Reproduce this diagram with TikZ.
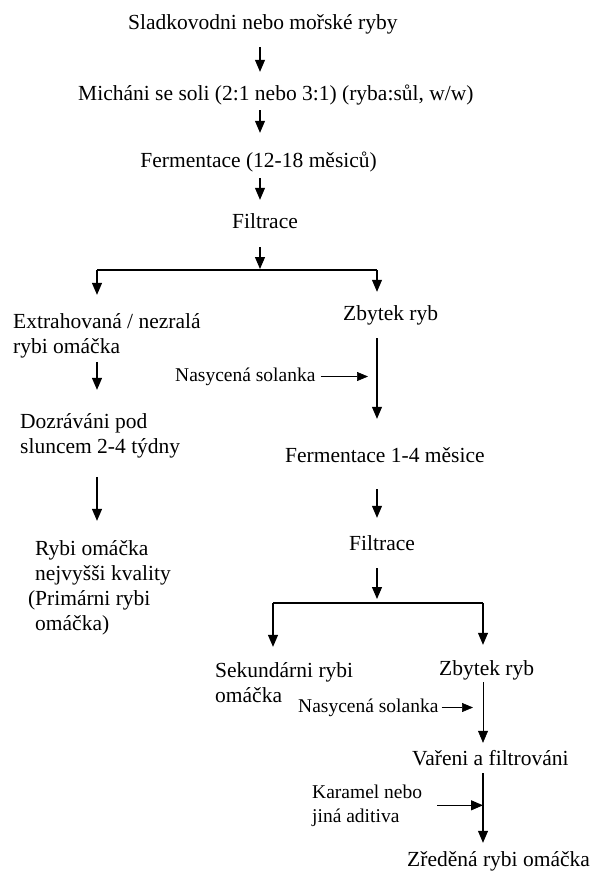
\documentclass[tikz,border=0pt]{standalone}
\usepackage{fontspec}
\setmainfont{Liberation Serif}
\usetikzlibrary{arrows.meta}

\begin{document}
\begin{tikzpicture}[
		x=1pt, y=-1pt,
		% Define styles for nodes
		every node/.style={inner sep=0pt, anchor=base west},
		txt/.style={font=\fontsize{21.5}{25}\selectfont, text height=15pt, text depth=5pt},
		blk/.style={font=\fontsize{21.5}{25}\selectfont, align=left},
		small/.style={font=\fontsize{19.5}{24}\selectfont, text height=13.5pt, text depth=4.5pt},
		smallblk/.style={font=\fontsize{19.5}{24}\selectfont, align=left},
		% Define styles for connectors
		arr/.style={draw, line width=1.1pt, -{Triangle[width=10pt, length=12pt]}},
		feed/.style={draw, line width=0.6pt, -{Triangle[width=9pt, length=11pt]}}
	]
	\useasboundingbox (0,0) rectangle (595,872);

	% Columns and split points
	\coordinate (colM) at (260,0);
	\coordinate (colL) at (97,0);
	\coordinate (colR) at (377,0);
	\coordinate (colRR) at (483,0);
	\coordinate (split) at (260,270);
	\coordinate (splitL) at (97,270);
	\coordinate (splitR) at (377,270);
	\coordinate (splitB) at (377,603);
	\coordinate (splitBL) at (273,603);
	\coordinate (splitBR) at (483,603);

	% Main line
	\node[txt] (fish) at (128,30) {Sladkovodni nebo mořské ryby};
	\node[txt] (mix) at (78,101) {Micháni se soli (2:1 nebo 3:1) (ryba:sůl, w/w)};
	\node[txt, anchor=base east] (ferm) at (377,167) {Fermentace (12-18 měsiců)};
	\node[txt] (filt) at (232,228) {Filtrace};

	% Left branch (blocks sit on the baseline of their last line)
	\node[blk] (extr) at (13,353) {Extrahovaná / nezralá\\rybi omáčka};
	\node[blk] (ripe) at (20,453) {Dozráváni pod\\sluncem 2-4 týdny};
	\node[blk] (prim) at (35,630) {Rybi omáčka\\nejvyšši kvality\\\llap{(}Primárni rybi\\omáčka)};

	% Right branch
	\node[txt] (rest) at (343,320) {Zbytek ryb};
	\node[small] (brine) at (175,381) {Nasycená solanka};
	\node[txt] (fermB) at (285,462) {Fermentace 1-4 měsice};
	\node[txt] (filtB) at (349,550) {Filtrace};
	\node[blk] (sec) at (215,702) {Sekundárni rybi\\omáčka};
	\node[txt] (restB) at (439,675) {Zbytek ryb};
	\node[small] (brineB) at (298,712) {Nasycená solanka};
	\node[txt] (cook) at (412,765) {Vařeni a filtrováni};
	\node[smallblk] (caramel) at (312,822) {Karamel nebo\\jiná aditiva};
	\node[txt] (dil) at (407,866) {Zředěná rybi omáčka};

	% Arrows, main line
	\draw[arr, shorten <=12pt, shorten >=14pt] (fish.south -| colM) -- (mix.north -| colM);
	\draw[arr, shorten <=4pt, shorten >=19pt] (mix.south -| colM) -- (ferm.north -| colM);
	\draw[arr, shorten <=6pt, shorten >=13pt] (ferm.south -| colM) -- (filt.north -| colM);
	\draw[arr, shorten <=14pt, shorten >=1pt] (filt.south -| colM) -- (split);
	\draw[line width=1.1pt] (splitL) -- (splitR);
	\draw[arr, shorten >=18pt] (splitL) -- (splitL |- extr.north);
	\draw[arr, shorten >=13pt] (splitR) -- (splitR |- rest.north);

	% Arrows, left branch
	\draw[arr, shorten <=4pt, shorten >=23pt] (extr.south -| colL) -- (ripe.north -| colL);
	\draw[arr, shorten <=19pt, shorten >=19pt] (ripe.south -| colL) -- (prim.north -| colL);

	% Arrows, right branch
	\draw[arr, shorten <=13pt, shorten >=28pt] (rest.south -| colR) -- (fermB.north -| colR);
	\draw[feed, shorten <=5pt, shorten >=9pt] (brine.east) -- (brine.east -| colR);
	\draw[arr, shorten <=22pt, shorten >=17pt] (fermB.south -| colR) -- (filtB.north -| colR);
	\draw[arr, shorten <=13pt, shorten >=4pt] (filtB.south -| colR) -- (splitB);
	\draw[line width=1.1pt] (splitBL) -- (splitBR);
	\draw[arr, shorten >=15pt] (splitBL) -- (splitBL |- sec.north);
	\draw[arr, shorten >=15pt] (splitBR) -- (splitBR |- restB.north);
	\draw[arr, line width=0.6pt, shorten <=2pt, shorten >=7pt] (restB.south -| colRR) -- (cook.north -| colRR);
	\draw[feed, shorten <=3pt, shorten >=10pt] (brineB.east) -- (brineB.east -| colRR);
	\draw[arr, shorten <=3pt, shorten >=8pt] (cook.south -| colRR) -- (dil.north -| colRR);
	\draw[arr, shorten <=15pt] (caramel.east) -- (caramel.east -| colRR);
\end{tikzpicture}
\end{document}
